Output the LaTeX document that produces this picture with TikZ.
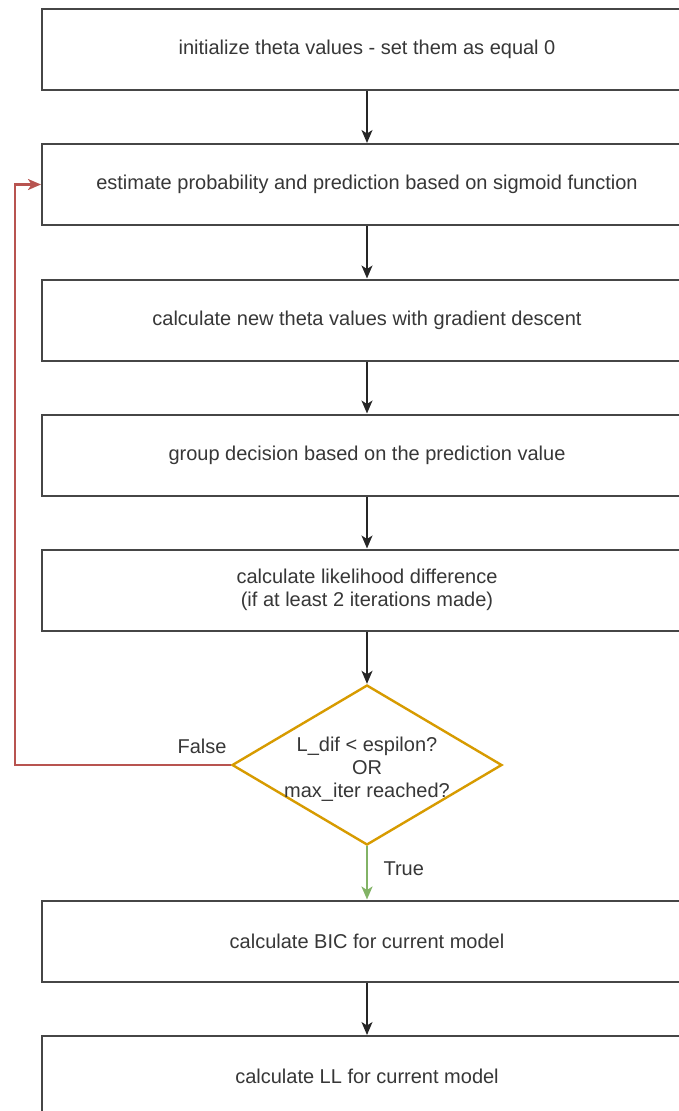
\documentclass[tikz,border=0pt]{standalone}
\usepackage{fontspec}
\setmainfont{Liberation Sans}
\usetikzlibrary{arrows.meta,shapes.geometric}
\definecolor{BoxGray}{RGB}{70,70,70}
\definecolor{TxtGray}{RGB}{55,55,55}
\definecolor{LoopRed}{RGB}{184,84,80}
\definecolor{CondGold}{RGB}{215,155,0}
\definecolor{OkGreen}{RGB}{130,179,102}
\tikzset{
  proc/.style={rectangle,draw=BoxGray,line width=2pt,fill=white,minimum width=650pt,minimum height=81pt,
    inner sep=0pt,font=\fontsize{20}{23}\selectfont,text=TxtGray,align=center},
  cond/.style={diamond,draw=CondGold,line width=2.4pt,fill=white,minimum width=270pt,minimum height=160pt,inner sep=0pt},
  lab/.style={font=\fontsize{20}{23}\selectfont,text=TxtGray,align=center},
  flow/.style={draw=black!85,line width=1.5pt,-{Stealth[length=13pt,width=11pt,inset=3.5pt]}},
}
\tikzset{back/.style={flow,draw=LoopRed,line width=2.2pt}, yes/.style={flow,draw=OkGreen,line width=2.2pt}}

\begin{document}
\begin{tikzpicture}[x=1pt,y=-1pt]
\useasboundingbox (0,0) rectangle (679,1111);\clip (0,0) rectangle (679,1111);
\node[proc](init) at (367,49.5){initialize theta values - set them as equal 0};
\node[proc](est) at (367,184.5){estimate probability and prediction based on sigmoid function};
\node[proc](grad) at (367,320){calculate new theta values with gradient descent};
\node[proc](grp) at (367,455){group decision based on the prediction value};
\node[proc](lik) at (367,590){calculate likelihood difference\\(if at least 2 iterations made)};
\node[cond](cond) at (367,765){};\node[lab](condtxt) at (367,769){L\_dif < espilon?\\OR\\max\_iter reached?};
\node[proc](bic) at (367,941){calculate BIC for current model};
\node[proc](ll) at (367,1076.5){calculate LL for current model};
\coordinate (turn) at (15,765);
\draw[flow] (init)--(est);\draw[flow] (est)--(grad);\draw[flow] (grad)--(grp);\draw[flow] (grp)--(lik);
\draw[flow] (lik)--(cond);\draw[yes] (cond)--(bic);\draw[flow] (bic)--(ll);
\draw[back] (cond.west)--(turn)|-(est.west);
\node[lab,anchor=base east](no) at (230,753){False};\node[lab,anchor=base west](ok) at (380,875){True};
\end{tikzpicture}
\end{document}
